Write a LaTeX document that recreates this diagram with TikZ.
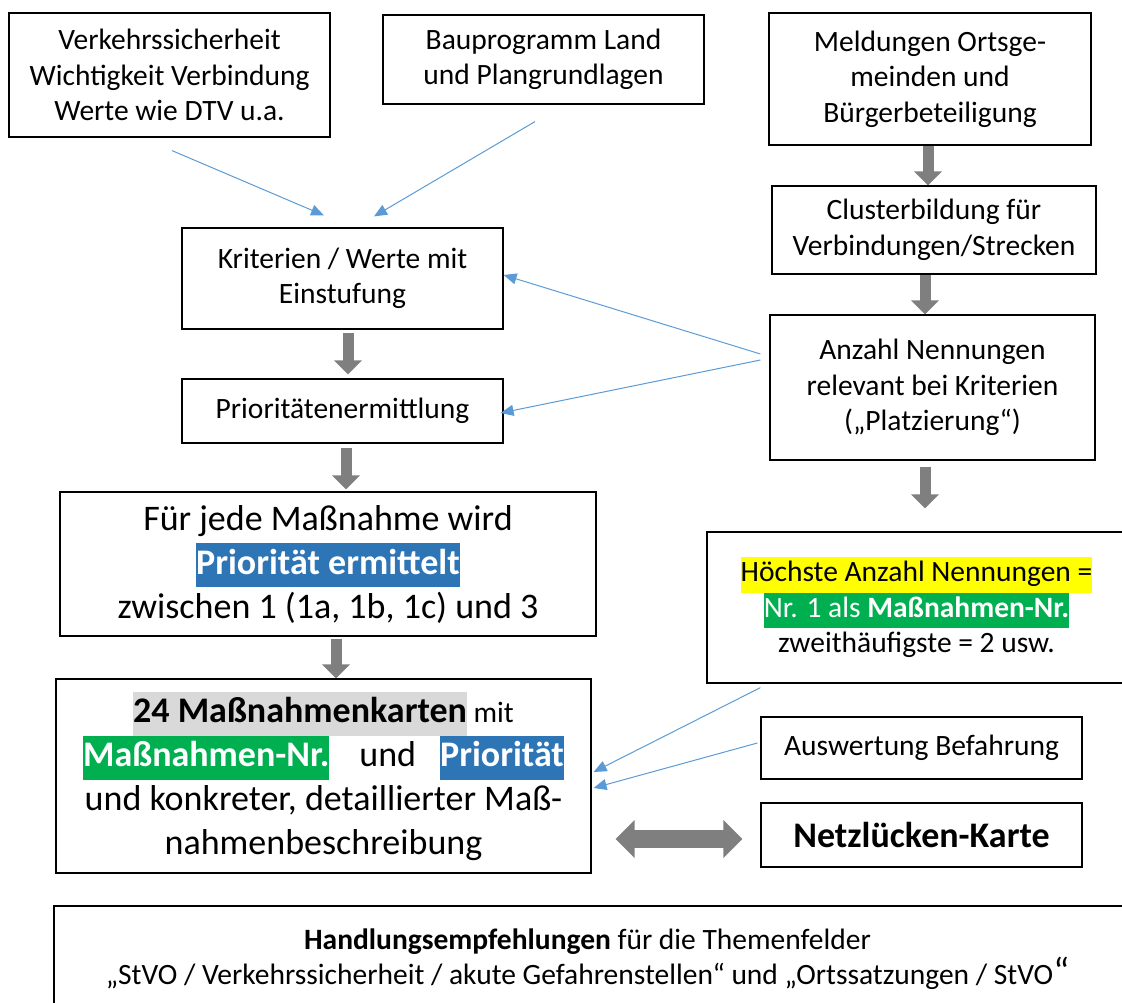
\documentclass[tikz,border=0pt]{standalone}
\usepackage{fontspec}
\setmainfont{Carlito}
\usetikzlibrary{arrows.meta,calc}
\definecolor{bluearr}{HTML}{5B9BD5}
\definecolor{grayarr}{HTML}{7F7F7F}
\definecolor{hlblue}{HTML}{2E75B6}
\definecolor{hlgreen}{HTML}{00B050}
\definecolor{hlgray}{HTML}{D9D9D9}
\definecolor{hlyellow}{HTML}{FFFF00}
\newcommand\hlbg[2]{{\setlength{\fboxsep}{0pt}\colorbox{#1}{\strut#2}}}
\newcommand\normfs{\fontsize{29.5}{35.5}\selectfont}
\newcommand\bigfs{\fontsize{36}{44}\selectfont}
\tikzset{
  box/.style={draw=black, line width=1.2pt, fill=white, align=center, inner sep=0pt, font=\normfs},
  bigbox/.style={box, font=\bigfs},
  garrow/.style={draw=grayarr, line width=11pt, -{Triangle[length=14pt,width=27pt]}},
  dblarrow/.style={draw=grayarr, line width=18pt, {Triangle[length=19pt,width=37pt]}-{Triangle[length=19pt,width=37pt]}},
  barrow/.style={draw=bluearr, line width=1pt, -{Triangle[length=13pt,width=11pt]}}
}
\begin{document}
\begin{tikzpicture}[x=1pt,y=-1pt]
\useasboundingbox (0,0) rectangle (1122,1003);
% boxes
\node[box, minimum width=321pt, minimum height=124pt] (v1) at (169.5,75) {Verkehrssicherheit\\Wichtigkeit Verbindung\\Werte wie DTV u.a.};
\node[box, minimum width=321pt, minimum height=89pt] (bau) at (543.5,59.5) {Bauprogramm Land\\und Plangrundlagen};
\node[box, minimum width=322pt, minimum height=132pt] (meld) at (930,79) {Meldungen Ortsge-\\meinden und\\Bürgerbeteiligung};
\node[box, minimum width=324pt, minimum height=88pt] (clus) at (934,230) {Clusterbildung für\\Verbindungen/Strecken};
\node[box, minimum width=325pt, minimum height=145pt] (anz) at (932.5,387.5) {Anzahl Nennungen\\relevant bei Kriterien\\(„Platzierung“)};
\node[box, minimum width=321pt, minimum height=101pt] (krit) at (342.5,278.5) {Kriterien / Werte mit\\Einstufung};
\node[box, minimum width=321pt, minimum height=64pt] (prio) at (342.5,411) {Prioritätenermittlung};
\node[bigbox, minimum width=536pt, minimum height=144pt] (fur) at (328,564) {Für jede Maßnahme wird\\\hlbg{hlblue}{\color{white}\bfseries Priorität ermittelt}\\zwischen 1 (1a, 1b, 1c) und 3};
\node[bigbox, minimum width=535pt, minimum height=194pt] (mk) at (323.5,776) {\hlbg{hlgray}{\bfseries 24 Maßnahmenkarten}{\normfs\ mit}\\\hlbg{hlgreen}{\color{white}\bfseries Maßnahmen-Nr.}\hspace{30pt}und\hspace{24pt}\hlbg{hlblue}{\color{white}\bfseries Priorität}\\und konkreter, detaillierter Maß-\\nahmenbeschreibung};
\node[box, minimum width=419pt, minimum height=151pt] (hoch) at (916.5,607.5) {\hlbg{hlyellow}{Höchste Anzahl Nennungen =}\\\hlbg{hlgreen}{\color{white}Nr. 1 als \bfseries Maßnahmen-Nr.}\\zweithäufigste = 2 usw.};
\node[box, minimum width=321pt, minimum height=62pt] (ausw) at (921.5,748) {Auswertung Befahrung};
\node[box, minimum width=321pt, minimum height=64pt, font=\fontsize{36}{40}\selectfont\bfseries] (netz) at (921.5,835) {Netzlücken-Karte};
\node[box, minimum width=1076pt, minimum height=106pt] (handl) at (592,959) {};
\node[align=center, inner sep=0pt, font=\fontsize{29.5}{35}\selectfont] (handltxt) at (587.5,959) {\textbf{Handlungsempfehlungen} für die Themenfelder\\„StVO / Verkehrssicherheit / akute Gefahrenstellen“ und „Ortssatzungen / StVO{\fontsize{38}{35}\selectfont“}};
% gray arrows
\draw[garrow] ($(meld.south)+(-2,0)$) -- ($(meld.south|-clus.north)+(-2,0)$);
\draw[garrow] ($(clus.south)+(-9,0)$) -- ($(clus.south|-anz.north)+(-9,0)$);
\draw[garrow] ($(anz.south)+(-7.5,6)$) -- ($(anz.south|-hoch.north)+(-7.5,-23)$);
\draw[garrow] ($(krit.south)+(5.5,3)$) -- ($(krit.south|-prio.north)+(5.5,-4)$);
\draw[garrow] ($(prio.south)+(3.5,4)$) -- ($(prio.south|-fur.north)+(3.5,-2)$);
\draw[garrow] ($(fur.south)+(8,2)$) -- ($(fur.south|-mk.north)+(8,0)$);
\draw[dblarrow] ($(mk.east|-netz.west)+(24,4)$) -- ($(netz.west)+(-18,4)$);
% blue arrows
\draw[barrow] ($(v1.south)+(2.5,13)$) -- ($(krit.north)+(-18.5,-12)$);
\draw[barrow] ($(bau.south)+(-8.5,17)$) -- ($(krit.north)+(31.5,-11)$);
\draw[barrow] ($(anz.west)+(-9,-33.5)$) -- ($(krit.east)+(0,-3.5)$);
\draw[barrow] ($(anz.west)+(-9,-27.5)$) -- ($(prio.east)+(-3,2)$);
\draw[barrow] ($(hoch.south west)+(54,4)$) -- ($(mk.east)+(2,-4)$);
\draw[barrow] ($(ausw.west)+(-3,-5)$) -- ($(mk.east)+(2,12)$);
\end{tikzpicture}
\end{document}
